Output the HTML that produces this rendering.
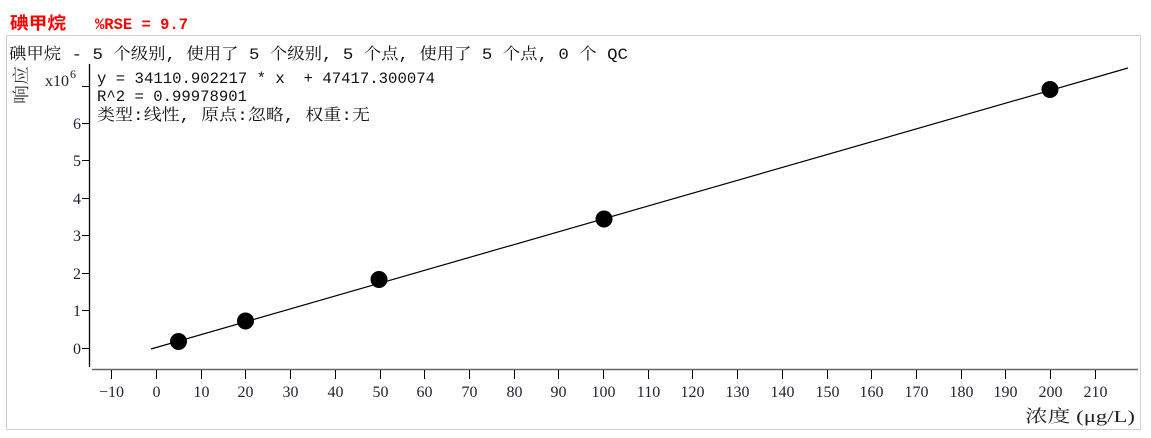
<!DOCTYPE html>
<html><head><meta charset="utf-8"><style>
body{margin:0;width:1151px;height:438px;background:#fff;overflow:hidden;position:relative}
</style></head><body>
<svg width="1151" height="438" style="position:absolute;left:0;top:0" xmlns="http://www.w3.org/2000/svg">
<text x="10" y="29" textLength="56" lengthAdjust="spacingAndGlyphs" font-family="Noto Sans CJK SC, sans-serif" font-size="17" font-weight="bold" fill="#f00">碘甲烷</text>
<text x="95" y="29" textLength="93" lengthAdjust="spacingAndGlyphs" font-family="Liberation Mono, monospace" font-size="16" font-weight="bold" fill="#f00">%RSE = 9.7</text>
<rect x="6.5" y="35.5" width="1134" height="394" fill="none" stroke="#d0d0d0"/>
<text x="9" y="59" textLength="619" lengthAdjust="spacingAndGlyphs" font-family="Liberation Mono, Noto Serif CJK SC, monospace" font-size="16" fill="#111">碘甲烷 - 5 个级别, 使用了 5 个级别, 5 个点, 使用了 5 个点, 0 个 QC</text>
<text transform="translate(27,104) rotate(-90)" textLength="38" lengthAdjust="spacingAndGlyphs" font-family="Noto Serif CJK SC, serif" font-size="17" fill="#333">响应</text>
<text x="45" y="86" font-family="Liberation Serif, serif" font-size="16" fill="#222">x10</text>
<text x="70" y="78" font-family="Liberation Serif, serif" font-size="12" fill="#222">6</text>
<g font-family="Liberation Mono, Noto Serif CJK SC, monospace" font-size="16" fill="#111">
<text x="97" y="83" textLength="338" lengthAdjust="spacingAndGlyphs">y = 34110.902217 * x &#160;+ 47417.300074</text>
<text x="97" y="101" textLength="150" lengthAdjust="spacingAndGlyphs">R^2 = 0.99978901</text>
<text x="97" y="120" textLength="273" lengthAdjust="spacingAndGlyphs">类型:线性, 原点:忽略, 权重:无</text>
</g>
<line x1="89.5" y1="64" x2="89.5" y2="367" stroke="#000" stroke-width="1.3"/>
<line x1="92" y1="369.5" x2="1138" y2="369.5" stroke="#666" stroke-width="1.5"/>
<g stroke="#000" stroke-width="1">
<line x1="82" y1="86.5" x2="89" y2="86.5"/>
<line x1="82" y1="123.5" x2="89" y2="123.5"/>
<line x1="82" y1="160.5" x2="89" y2="160.5"/>
<line x1="82" y1="198.5" x2="89" y2="198.5"/>
<line x1="82" y1="235.5" x2="89" y2="235.5"/>
<line x1="82" y1="273.5" x2="89" y2="273.5"/>
<line x1="82" y1="310.5" x2="89" y2="310.5"/>
<line x1="82" y1="348.5" x2="89" y2="348.5"/>
</g>
<g font-family="Liberation Serif, serif" font-size="16" fill="#223" text-anchor="end">
<text x="81" y="129">6</text><text x="81" y="166">5</text><text x="81" y="204">4</text>
<text x="81" y="241">3</text><text x="81" y="279">2</text><text x="81" y="316">1</text><text x="81" y="354">0</text>
</g>
<g id="xt" stroke="#000" stroke-width="1"></g>
<g id="xl" font-family="Liberation Serif, serif" font-size="16" fill="#223" text-anchor="middle"></g>
<text x="1025" y="422" textLength="110" lengthAdjust="spacingAndGlyphs" font-family="Liberation Serif, Noto Serif CJK SC, serif" font-size="17" fill="#222">浓度 (μg/L)</text>
<line x1="151" y1="349" x2="1128" y2="68" stroke="#000" stroke-width="1.2"/>
<g fill="#000">
<circle cx="178.5" cy="341.5" r="8.5"/>
<circle cx="245.5" cy="321" r="8.5"/>
<circle cx="379" cy="279.5" r="8.5"/>
<circle cx="604" cy="219" r="8.5"/>
<circle cx="1050" cy="89.5" r="8.5"/>
</g>
</svg>
<script>
var t=document.getElementById('xt'),l=document.getElementById('xl'),ns='http://www.w3.org/2000/svg';
for(var v=-10;v<=210;v+=10){var x=Math.round(156+4.47*v)+0.5;
var ln=document.createElementNS(ns,'line');ln.setAttribute('x1',x);ln.setAttribute('x2',x);ln.setAttribute('y1',370);ln.setAttribute('y2',379);t.appendChild(ln);
var tx=document.createElementNS(ns,'text');tx.setAttribute('x',x);tx.setAttribute('y',397);tx.textContent=v<0?'−10':v;l.appendChild(tx);}
</script>
</body></html>
